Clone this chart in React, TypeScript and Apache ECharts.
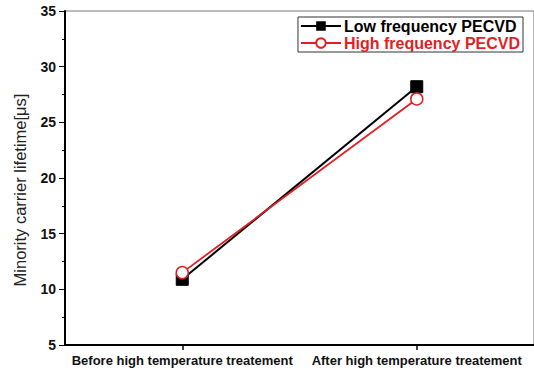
import React, { useEffect, useRef } from "react";
import * as echarts from "echarts";

const categories = ["Before high temperature treatement", "After high temperature treatement"];
const lowFreq = [10.9, 28.2];
const highFreq = [11.5, 27.1];
const seriesNames = ["Low frequency PECVD", "High frequency PECVD"];

export default function App() {
  const ref = useRef<HTMLDivElement>(null);
  useEffect(() => {
    const chart = echarts.init(ref.current!, null, { renderer: "svg" });
    chart.setOption({
      animation: false,
      textStyle: { fontFamily: "Liberation Sans, Arial, sans-serif" },
      grid: { left: 65, top: 11, right: -1, bottom: 26, show: true, borderColor: "#777", borderWidth: 1 },
      legend: {
        orient: "vertical",
        right: 11,
        top: 17,
        padding: [1, 3, 1, 2],
        itemGap: 1,
        itemWidth: 40,
        itemHeight: 12,
        borderColor: "#333",
        borderWidth: 1,
        backgroundColor: "#fff",
        data: [
          { name: seriesNames[0], textStyle: { color: "#000" } },
          { name: seriesNames[1], textStyle: { color: "#e31e24" } },
        ],
        textStyle: { fontWeight: "bold", fontSize: 16, padding: [0, 0, 0, -2] },
      },
      xAxis: {
        type: "category",
        data: categories,
        boundaryGap: true,
        axisLine: { lineStyle: { color: "#000", width: 2 } },
        axisTick: { show: true, alignWithLabel: true, length: 5, lineStyle: { color: "#000", width: 1.5 } },
        axisLabel: { color: "#111", fontWeight: "bold", fontSize: 13, margin: 9, interval: 0 },
        splitLine: { show: false },
      },
      yAxis: {
        type: "value",
        min: 5,
        max: 35,
        interval: 5,
        name: "Minority carrier lifetime[μs]",
        nameLocation: "middle",
        nameGap: 37,
        nameTextStyle: { color: "#222", fontSize: 16.5, padding: [0, 24, 0, 0] },
        axisLine: { show: true, lineStyle: { color: "#000", width: 2 } },
        axisTick: { show: true, inside: false, length: 6, lineStyle: { color: "#000", width: 1 } },
        minorTick: { show: true, splitNumber: 2, length: 3, lineStyle: { color: "#000", width: 1 } },
        axisLabel: { color: "#111", fontWeight: "bold", fontSize: 14, margin: 9 },
        splitLine: { show: false },
      },
      series: [
        {
          name: seriesNames[0],
          type: "line",
          data: lowFreq,
          color: "#000",
          symbol: "rect",
          symbolSize: 12,
          lineStyle: { color: "#000", width: 2 },
          itemStyle: { color: "#000", borderColor: "#000" },
        },
        {
          name: seriesNames[1],
          type: "line",
          data: highFreq,
          color: "#e31e24",
          symbol: "circle",
          symbolSize: 12,
          showAllSymbol: true,
          lineStyle: { color: "#e31e24", width: 1.8 },
          itemStyle: { color: "#fff", borderColor: "#e31e24", borderWidth: 1.5 },
        },
      ],
    });
    return () => chart.dispose();
  }, []);
  return <div ref={ref} style={{ width: 534, height: 371, position: "absolute", left: 0, top: 0 }} />;
}
